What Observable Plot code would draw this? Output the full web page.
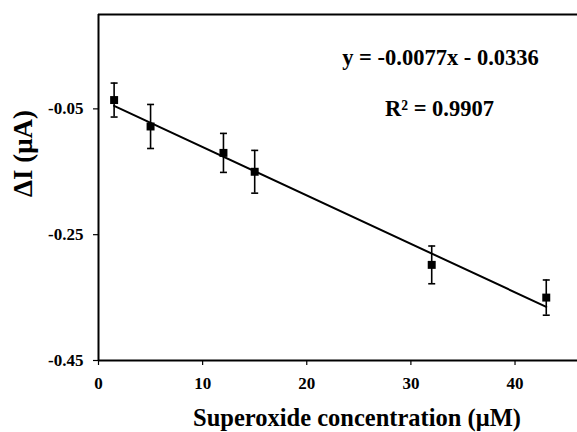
<!DOCTYPE html>
<html>
<head>
<meta charset="utf-8">
<script src="https://cdn.jsdelivr.net/npm/d3@7"></script>
<script src="https://cdn.jsdelivr.net/npm/@observablehq/plot@0.6"></script>
<style>
  html, body { margin: 0; padding: 0; background: #fff; }
  svg { display: block; }
</style>
</head>
<body>
<div id="chart"></div>
<script>
// Data
const concentration = [1.5, 5, 12, 15, 32, 43];          // µM
const deltaI = [-0.036, -0.078, -0.120, -0.150, -0.298, -0.350]; // µA
const errorBar = [0.027, 0.035, 0.031, 0.034, 0.030, 0.028];
const xTicks = [0, 10, 20, 30, 40];
const yTicks = [-0.45, -0.25, -0.05];
const slope = -0.0077;
const intercept = -0.0336;
const equationText = "y = -0.0077x - 0.0336";
const r2Text = "R² = 0.9907";
const xTitle = "Superoxide concentration (μM)";
const yTitle = "ΔI (μA)";

const data = concentration.map((x, i) => ({x, y: deltaI[i], lo: deltaI[i] - errorBar[i], hi: deltaI[i] + errorBar[i]}));
const fitX = [concentration[0], concentration[concentration.length - 1]];
const fit = fitX.map(x => ({x, y: slope * x + intercept}));

const cap = {
  draw(ctx, size) { ctx.moveTo(-3.5, 0); ctx.lineTo(3.5, 0); }
};

const font = "'Liberation Serif', 'Times New Roman', serif";

const chart = Plot.plot({
  width: 577,
  height: 432,
  marginLeft: 98,
  marginRight: 0,
  marginTop: 14,
  marginBottom: 72,
  style: {fontFamily: font, fontWeight: "bold", color: "black", background: "white"},
  x: {domain: [0, 46]},
  y: {domain: [-0.45, 0.1]},
  marks: [
    Plot.ruleY([0.1], {stroke: "black", strokeWidth: 2}),
    Plot.ruleY([-0.45], {stroke: "black", strokeWidth: 2}),
    Plot.ruleX([0], {stroke: "black", strokeWidth: 2}),
    Plot.axisX({ticks: xTicks, tickSize: 5, tickPadding: 11, fontSize: 17, fontWeight: "bold", label: null, strokeWidth: 1.2, tickFormat: d => String(d)}),
    Plot.axisY({ticks: yTicks, tickSize: 5, tickPadding: 10, fontSize: 17, fontWeight: "bold", label: null, strokeWidth: 1.2, tickFormat: d => d.toFixed(2)}),
    Plot.line(fit, {x: "x", y: "y", stroke: "black", strokeWidth: 2}),
    Plot.ruleX(data, {x: "x", y1: "lo", y2: "hi", stroke: "black", strokeWidth: 1.6}),
    Plot.dot(data, {x: "x", y: "hi", symbol: cap, stroke: "black", strokeWidth: 1.6, r: 3}),
    Plot.dot(data, {x: "x", y: "lo", symbol: cap, stroke: "black", strokeWidth: 1.6, r: 3}),
    Plot.dot(data, {x: "x", y: "y", symbol: "square", fill: "black", r: 4.5}),
    Plot.text([equationText], {frameAnchor: "top-right", dx: -137, dy: 43, lineAnchor: "middle", fontSize: 22.5, fontWeight: "bold", textAnchor: "middle", fill: "black"}),
    Plot.text([r2Text], {frameAnchor: "top-right", dx: -138, dy: 94, lineAnchor: "middle", fontSize: 22.5, fontWeight: "bold", textAnchor: "middle", fill: "black"}),
    Plot.text([yTitle], {frameAnchor: "left", dx: -75, dy: 9.5, lineAnchor: "middle", rotate: -90, fontSize: 27, fontWeight: "bold", fill: "black"}),
    Plot.text([xTitle], {frameAnchor: "bottom", dy: 57.5, dx: 19, lineAnchor: "middle", fontSize: 24.5, fontWeight: "bold", fill: "black"})
  ]
});
document.getElementById("chart").appendChild(chart);
</script>
</body>
</html>
